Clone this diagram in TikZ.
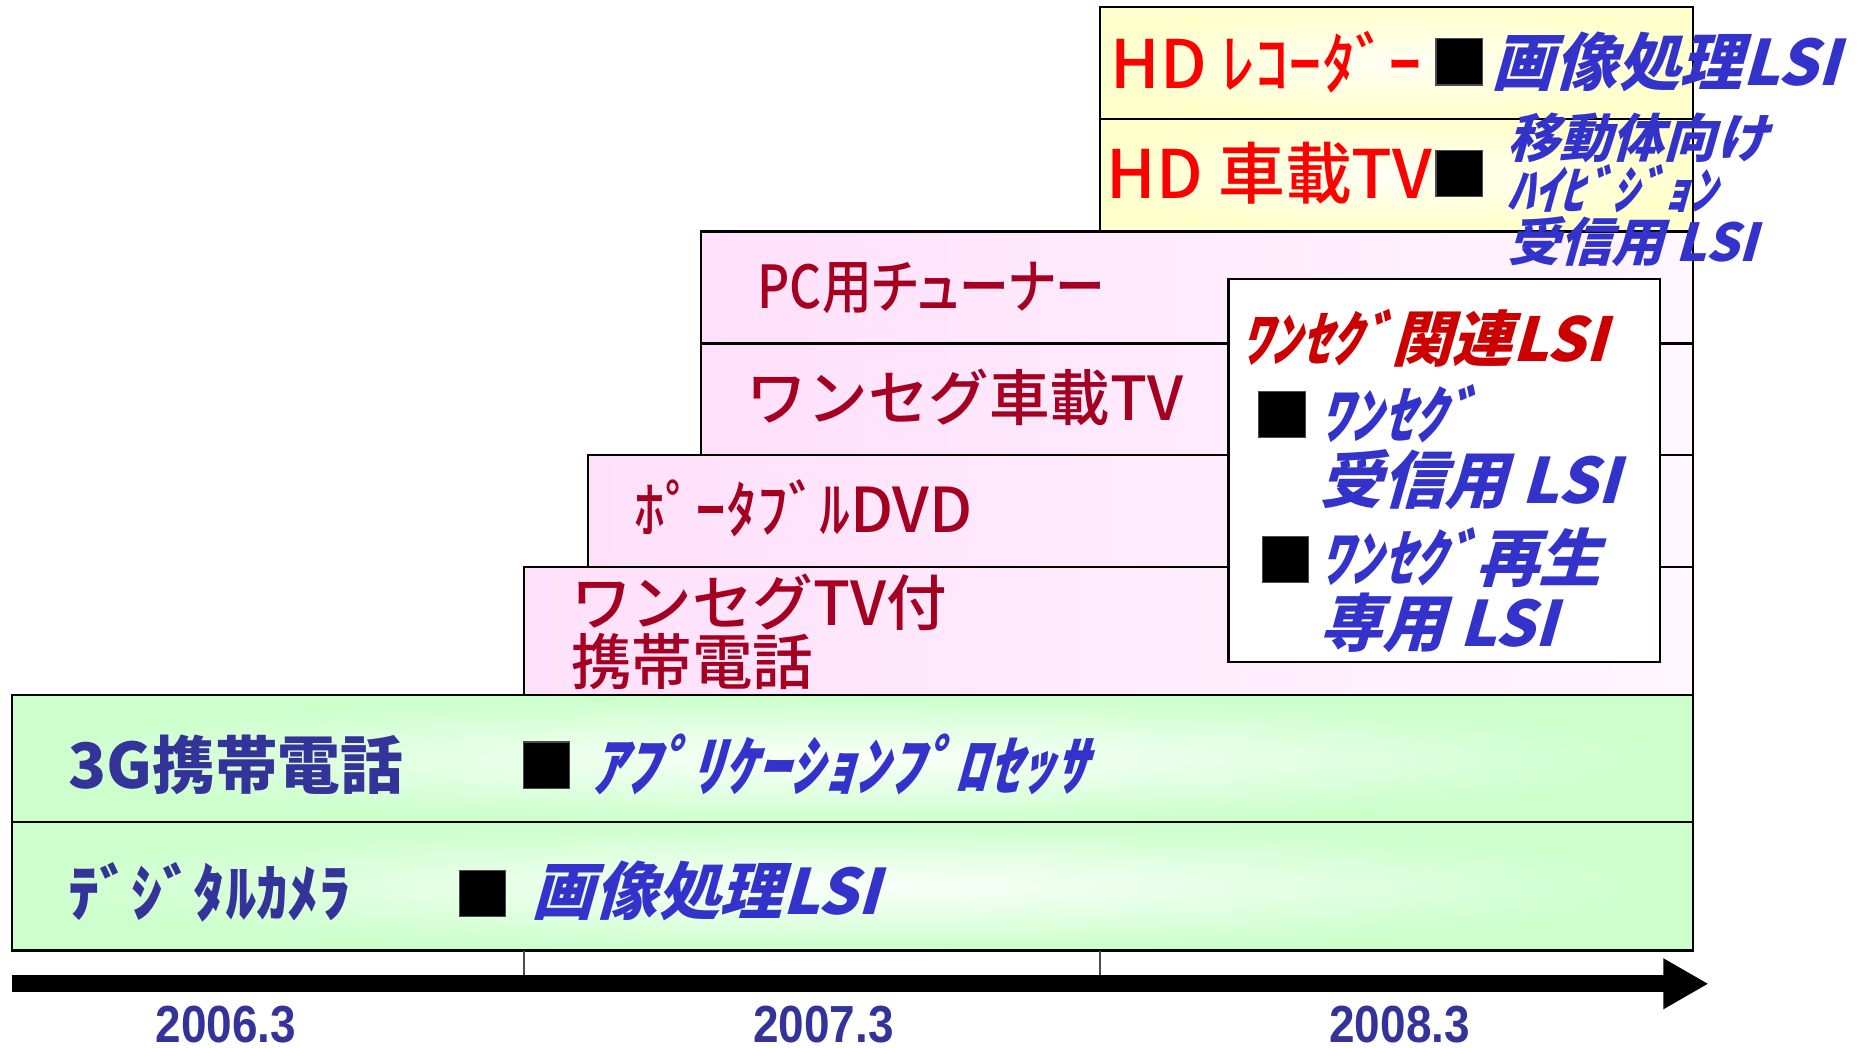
\documentclass[tikz,border=0pt]{standalone}
\usepackage{fontspec}
\usetikzlibrary{arrows.meta}
\newfontfamily\jp[RawFeature=+palt]{Noto Sans CJK JP}
\newfontfamily\jpmed{Noto Sans CJK JP Medium}
\newfontfamily\jpnarrow[RawFeature=+palt,FakeStretch=0.84]{Noto Sans CJK JP Medium}
\newfontfamily\jpsl[RawFeature=+palt,FakeSlant=0.28]{Noto Sans CJK JP}
\newfontfamily\yearfont[FakeStretch=0.88]{Liberation Sans}
\definecolor{grn}{RGB}{204,255,204}
\definecolor{grnlite}{RGB}{250,255,250}
\definecolor{pnk}{RGB}{255,224,250}
\definecolor{pnklite}{RGB}{255,246,254}
\definecolor{ylw}{RGB}{255,255,204}
\definecolor{ylwlite}{RGB}{255,255,245}
\definecolor{darkred}{RGB}{165,0,33}
\definecolor{lsiblue}{RGB}{51,51,204}
\definecolor{navy}{RGB}{51,51,153}
\definecolor{titlered}{RGB}{204,0,0}
\tikzset{
  row/.style={draw=black,line width=0.6pt},
  greenrow/.style={row,inner color=grnlite,outer color=grn},
  pinkrow/.style={row,left color=pnk,right color=pnklite},
  yellowrow/.style={row,inner color=ylwlite,outer color=ylw},
  chip/.style={fill=black,draw=black!70,line width=0.3pt,minimum size=3.9mm,inner sep=0pt},
  lbl/.style={anchor=west,inner sep=0pt,align=left},
  hdlbl/.style={lbl,text=red,font=\jpmed\fontsize{16}{17}\selectfont},
  applbl/.style={lbl,text=darkred,font=\jpmed\fontsize{14.5}{14}\selectfont},
  baselbl/.style={lbl,text=navy,font=\jp\bfseries\fontsize{15}{17}\selectfont},
  lsibig/.style={lbl,text=lsiblue,font=\jpsl\bfseries\fontsize{15}{15.6}\selectfont},
  lsismall/.style={lbl,text=lsiblue,font=\jpsl\bfseries\fontsize{12.5}{12.4}\selectfont},
  yearlbl/.style={inner sep=0pt,text=navy,font=\yearfont\bfseries\fontsize{12.5}{14}\selectfont}
}
\begin{document}
\begin{tikzpicture}[x=0.1mm,y=-0.1mm]
  \useasboundingbox (0,0) rectangle (1568,882);
  \def\xend{1425}

  \draw[greenrow] (10,585) rectangle (\xend,692);
  \draw[greenrow] (10,692) rectangle (\xend,800);
  \draw[pinkrow] (441,477) rectangle (\xend,585);
  \draw[pinkrow] (495,383) rectangle (\xend,477);
  \draw[pinkrow] (590,289) rectangle (\xend,383);
  \draw[pinkrow] (590,195) rectangle (\xend,289);
  \draw[yellowrow] (926,100) rectangle (\xend,195);
  \draw[yellowrow] (926,6) rectangle (\xend,100);
  \draw[fill=white,draw=black,line width=0.5pt] (1034,235) rectangle (1397,557);

  \foreach \x in {441,926}
    \draw[black!70,line width=0.4pt] (\x,800) -- (\x,822);
  \coordinate (axisL) at (10,828);
  \coordinate (axisR) at (1438,828);
  \draw[line width=1.4mm,-{Triangle[length=3.8mm,width=4mm]}] (axisL) -- (axisR);

  \node[yearlbl] (y2006) at (190,862) {2006.3};
  \node[yearlbl] (y2007) at (693,862) {2007.3};
  \node[yearlbl] (y2008) at (1178,862) {2008.3};

  \node[hdlbl] (hdrec) at (934,52) {HD ﾚｺｰﾀﾞｰ};
  \node[chip] (chipA) at (1228,52) {};
  \node[lsibig] (imgA) at (1255,52) {画像処理LSI};
  \node[hdlbl] (hdcar) at (931,146) {HD 車載TV};
  \node[chip] (chipB) at (1228,146) {};
  \node[lsismall] (mobile) at (1268,160) {移動体向け\\ﾊｲﾋﾞｼﾞｮﾝ\\受信用 LSI};

  \node[applbl,font=\jpnarrow\fontsize{14.2}{14}\selectfont] (pc) at (637,242) {PC用チューナー};
  \node[applbl] (segcar) at (628,334) {ワンセグ車載TV};
  \node[applbl,font=\jpmed\fontsize{14.8}{14}\selectfont] (dvd) at (533,428) {ﾎﾟｰﾀﾌﾞﾙDVD};
  \node[applbl] (segphone) at (480,532) {ワンセグTV付\\携帯電話};

  \node[lbl,text=titlered,font=\jpsl\bfseries\fontsize{14.5}{16}\selectfont] (segtitle) at (1043,285) {ﾜﾝｾｸﾞ関連LSI};
  \node[chip] (chipC) at (1079,349) {};
  \node[lsibig] (segrx) at (1110,376) {ﾜﾝｾｸﾞ\\受信用 LSI};
  \node[chip] (chipD) at (1082,471) {};
  \node[lsibig] (segplay) at (1110,497) {ﾜﾝｾｸﾞ再生\\専用 LSI};

  \node[baselbl] (g3) at (57,644) {3G携帯電話};
  \node[chip] (chipE) at (460,644) {};
  \node[lsibig,font=\jpsl\bfseries\fontsize{15.8}{16}\selectfont] (appproc) at (497,643) {ｱﾌﾟﾘｹｰｼｮﾝﾌﾟﾛｾｯｻ};
  \node[baselbl] (camera) at (57,751) {ﾃﾞｼﾞﾀﾙｶﾒﾗ};
  \node[chip] (chipF) at (406,752) {};
  \node[lsibig] (imgB) at (447,750) {画像処理LSI};
\end{tikzpicture}
\end{document}
